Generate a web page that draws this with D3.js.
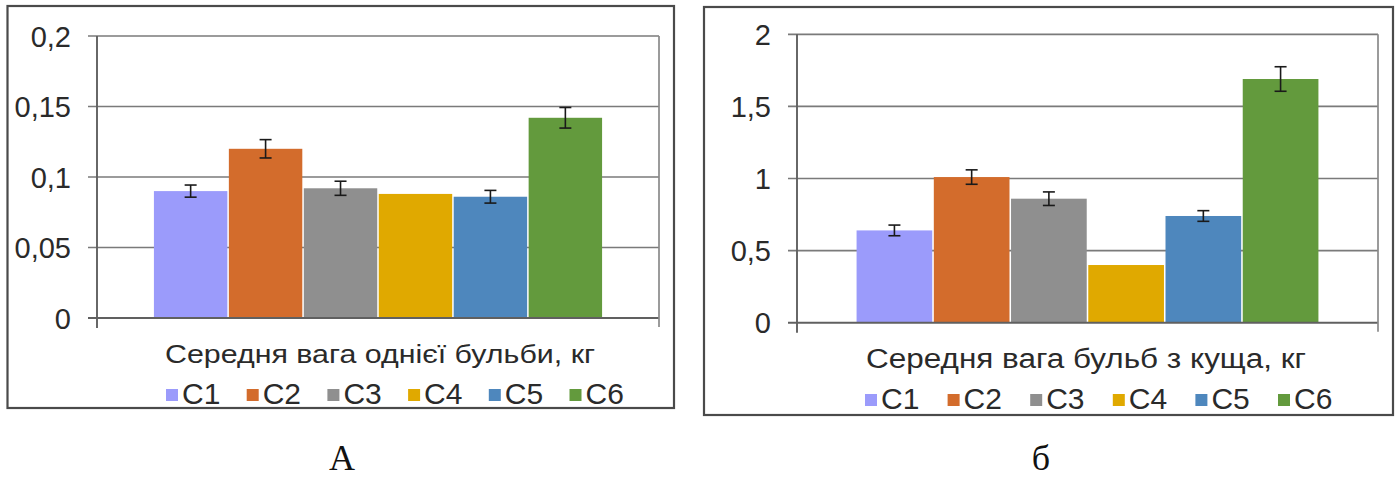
<!DOCTYPE html>
<html>
<head>
<meta charset="utf-8">
<script src="https://cdn.jsdelivr.net/npm/d3@7"></script>
<style>
  html, body { margin: 0; padding: 0; background: #fff; }
  svg { display: block; }
  .sans { font-family: "Liberation Sans", Arial, sans-serif; }
  .serif { font-family: "Liberation Serif", "Times New Roman", serif; }
</style>
</head>
<body>
<svg id="chart" width="1399" height="477"></svg>
<script>
// Varieties (series)
const series = ["C1", "C2", "C3", "C4", "C5", "C6"];
const seriesColors = ["#9b9bfb", "#d36c2c", "#8f8f8f", "#e0a900", "#4e87bd", "#639a3d"];

// Panel A: mean weight of one tuber, kg
const tuberTitle = "Середня вага однієї бульби, кг";
const tuberWeight = [0.090, 0.120, 0.092, 0.088, 0.086, 0.142];
const tuberError  = [0.0043, 0.0065, 0.005, null, 0.0045, 0.0073];
const tuberTicks  = [0, 0.05, 0.1, 0.15, 0.2];
const tuberTickLabels = ["0", "0,05", "0,1", "0,15", "0,2"];

// Panel б: mean weight of tubers per bush, kg
const bushTitle = "Середня вага бульб з куща, кг";
const bushWeight = [0.64, 1.01, 0.86, 0.40, 0.74, 1.69];
const bushError  = [0.037, 0.05, 0.047, null, 0.037, 0.085];
const bushTicks  = [0, 0.5, 1, 1.5, 2];
const bushTickLabels = ["0", "0,5", "1", "1,5", "2"];

const panelLetters = ["А", "б"];

const svg = d3.select("#chart");

function drawPanel(cfg) {
  const g = svg.append("g").attr("class", "sans");

  // outer frame
  g.append("rect")
    .attr("x", cfg.box[0]).attr("y", cfg.box[1])
    .attr("width", cfg.box[2] - cfg.box[0]).attr("height", cfg.box[3] - cfg.box[1])
    .attr("fill", "#fff").attr("stroke", "#4a4a4a").attr("stroke-width", 2.2);

  const y = d3.scaleLinear().domain([cfg.ticks[0], cfg.ticks[cfg.ticks.length - 1]])
    .range([cfg.plot.bottom, cfg.plot.top]);

  const x0 = d3.scaleBand().domain(["all"]).range([cfg.plot.left, cfg.plot.right])
    .paddingInner(0).paddingOuter(cfg.outer);
  const x1 = d3.scaleBand().domain(cfg.series).range([0, x0.bandwidth()]).paddingInner(0.02);
  const gx = x0("all");

  // gridlines (the zero line is drawn after the bars)
  g.append("g").selectAll("line")
    .data(cfg.ticks.filter(t => t !== 0))
    .join("line")
    .attr("x1", cfg.plot.left - 9).attr("x2", cfg.plot.right)
    .attr("y1", d => y(d)).attr("y2", d => y(d))
    .attr("stroke", "#7a7a7a").attr("stroke-width", 1.7);

  // bars
  g.append("g").selectAll("rect")
    .data(cfg.values.map((v, i) => ({ k: cfg.series[i], v, c: cfg.colors[i] })))
    .join("rect")
    .attr("x", d => gx + x1(d.k))
    .attr("width", x1.bandwidth())
    .attr("y", d => y(d.v))
    .attr("height", d => y(0) - y(d.v))
    .attr("fill", d => d.c);

  // error bars
  const eb = g.append("g").attr("stroke", "#1a1a1a").attr("stroke-width", 1.6)
    .selectAll("g")
    .data(cfg.values.map((v, i) => ({ k: cfg.series[i], v, e: cfg.errors[i] })).filter(d => d.e != null))
    .join("g");
  const cx = d => gx + x1(d.k) + x1.bandwidth() / 2;
  eb.append("line").attr("x1", cx).attr("x2", cx)
    .attr("y1", d => y(d.v + d.e)).attr("y2", d => y(d.v - d.e));
  eb.append("line").attr("x1", d => cx(d) - 6).attr("x2", d => cx(d) + 6)
    .attr("y1", d => y(d.v + d.e)).attr("y2", d => y(d.v + d.e));
  eb.append("line").attr("x1", d => cx(d) - 6).attr("x2", d => cx(d) + 6)
    .attr("y1", d => y(d.v - d.e)).attr("y2", d => y(d.v - d.e));

  // zero line, value axis and right edge of the plot area
  g.append("line")
    .attr("x1", cfg.plot.left - 9).attr("x2", cfg.plot.right)
    .attr("y1", y(0)).attr("y2", y(0))
    .attr("stroke", "#606060").attr("stroke-width", 1.9);
  g.append("line")
    .attr("x1", cfg.plot.left).attr("x2", cfg.plot.left)
    .attr("y1", y(cfg.ticks[cfg.ticks.length - 1])).attr("y2", y(0) + 10)
    .attr("stroke", "#606060").attr("stroke-width", 1.9);
  g.append("line")
    .attr("x1", cfg.plot.right).attr("x2", cfg.plot.right)
    .attr("y1", y(cfg.ticks[cfg.ticks.length - 1])).attr("y2", y(0) + 9)
    .attr("stroke", "#8a8a8a").attr("stroke-width", 1.7);

  // value axis labels
  const axis = d3.axisLeft(y).tickValues(cfg.ticks)
    .tickFormat((d, i) => cfg.tickLabels[i]).tickSize(0).tickPadding(0);
  const ag = g.append("g").attr("transform", `translate(${cfg.labelX},0)`).call(axis);
  ag.attr("font-family", null).attr("font-size", null);
  ag.select(".domain").remove();
  ag.selectAll("text")
    .style("font-family", "'Liberation Sans', Arial, sans-serif")
    .style("font-size", "29px").attr("fill", "#2a2a2a").attr("dy", "0.35em");

  // category title
  g.append("text")
    .attr("x", cfg.titleX).attr("y", cfg.titleY)
    .style("font-size", cfg.titleSize + "px").attr("fill", "#2a2a2a")
    .attr("textLength", cfg.titleWidth).attr("lengthAdjust", "spacingAndGlyphs")
    .text(cfg.title);

  // legend
  const lg = g.append("g").selectAll("g").data(cfg.series).join("g")
    .attr("transform", (d, i) => `translate(${cfg.legendX + i * cfg.legendStep},${cfg.legendY})`);
  lg.append("rect").attr("x", 0).attr("y", -15).attr("width", 12).attr("height", 12)
    .attr("fill", (d, i) => cfg.colors[i]);
  lg.append("text").attr("x", 16).attr("y", 0)
    .style("font-size", "30px").attr("fill", "#2a2a2a").text(d => d);

  // panel letter
  svg.append("text")
    .attr("class", "serif")
    .attr("x", cfg.letterX).attr("y", 470).attr("text-anchor", "middle")
    .style("font-size", "36px").attr("fill", "#111")
    .text(cfg.letter);
}

drawPanel({
  box: [7.5, 6, 674, 408],
  plot: { left: 97, right: 659, top: 36, bottom: 318 },
  outer: 0.127,
  series, colors: seriesColors,
  values: tuberWeight, errors: tuberError,
  ticks: tuberTicks, tickLabels: tuberTickLabels,
  labelX: 71,
  title: tuberTitle, titleX: 165, titleY: 363, titleSize: 26, titleWidth: 430,
  legendX: 166, legendStep: 80.7, legendY: 404,
  letter: panelLetters[0], letterX: 342
});

drawPanel({
  box: [704, 7, 1393, 415],
  plot: { left: 797, right: 1378, top: 34.3, bottom: 322.7 },
  outer: 0.129,
  series, colors: seriesColors,
  values: bushWeight, errors: bushError,
  ticks: bushTicks, tickLabels: bushTickLabels,
  labelX: 771,
  title: bushTitle, titleX: 866, titleY: 368, titleSize: 27, titleWidth: 440,
  legendX: 865, legendStep: 82.6, legendY: 409,
  letter: panelLetters[1], letterX: 1041
});
</script>
</body>
</html>
